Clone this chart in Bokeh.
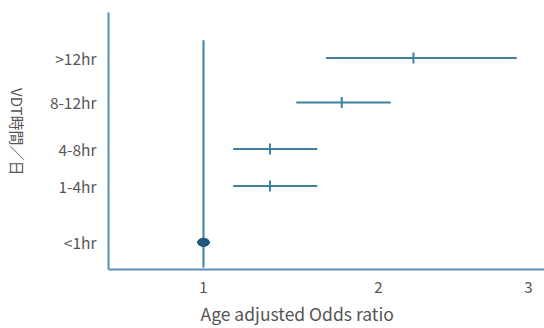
import math
from bokeh.plotting import figure
from bokeh.models import FixedTicker, Title, ColumnDataSource, Div
from bokeh.layouts import row
from bokeh.embed import file_html
from bokeh.resources import INLINE

# ---- data ----
categories = [">12hr", "8-12hr", "4-8hr", "1-4hr", "<1hr"]
rows = [21.4, 16.9, 12.2, 8.45, 2.75]        # vertical position of each category row
odds = [2.20, 1.79, 1.38, 1.38]               # estimates for the first four categories
ci_low = [1.70, 1.53, 1.17, 1.17]
ci_high = [2.79, 2.07, 1.65, 1.65]
ref_odds = [1.0]                              # reference category (<1hr)
ref_rows = [2.75]
ref_line_extent = [0.2, 23.2]                 # null line at OR = 1
x_ticks = [1, 2, 2.857]
x_tick_labels = {1: "1", 2: "2", 2.857: "3"}
y_title = "VDT時間／日"
x_title = "Age adjusted Odds ratio"

FONT = "Noto Sans CJK JP"
LINE = "#3f7fa0"
AXIS = "#5a8db5"
TXT = "#555555"

p = figure(width=518, height=328, output_backend="svg", toolbar_location=None,
           x_range=(0.457, 2.949), y_range=(0, 26),
           min_border_left=82, min_border_right=0, min_border_top=12,
           min_border_bottom=56)
p.outline_line_color = None
p.grid.visible = False
p.background_fill_color = "white"

src = ColumnDataSource(dict(y=rows[:4], lo=ci_low, hi=ci_high, est=odds))
p.segment(x0="lo", x1="hi", y0="y", y1="y", source=src, line_color=LINE, line_width=2)
p.scatter(x="est", y="y", source=src, marker="dash", angle=math.pi / 2, size=11,
          line_color=LINE, line_width=2)
p.segment(x0=ref_odds[0], x1=ref_odds[0], y0=ref_line_extent[0], y1=ref_line_extent[1],
          line_color=LINE, line_width=2)
p.ellipse(x=ref_odds, y=ref_rows, width=12, height=8, width_units="screen",
          height_units="screen", fill_color="#1f5a7c", line_color="#1a4f6e", line_width=1)

# x axis
xa = p.xaxis[0]
xa.ticker = FixedTicker(ticks=x_ticks)
xa.major_label_overrides = x_tick_labels
xa.major_tick_line_color = None
xa.minor_tick_line_color = None
xa.axis_line_color = AXIS
xa.axis_line_width = 2
xa.major_label_text_font = FONT
xa.major_label_text_font_size = "15px"
xa.major_label_text_color = TXT
xa.major_label_standoff = 6

# y axis
ya = p.yaxis[0]
ya.ticker = FixedTicker(ticks=rows)
ya.major_label_overrides = {r: c for r, c in zip(rows, categories)}
ya.major_tick_line_color = None
ya.minor_tick_line_color = None
ya.axis_line_color = AXIS
ya.axis_line_width = 2
ya.major_label_text_font = FONT
ya.major_label_text_font_size = "15.5px"
ya.major_label_text_color = TXT
ya.major_label_standoff = 6

# x axis title
p.add_layout(Title(text=x_title, align="left", offset=92,
                   text_font=FONT, text_font_size="17.5px", text_color=TXT,
                   text_font_style="normal", standoff=6), "below")

# y axis title (reads top to bottom, rotated clockwise)
ydiv = Div(
    text=('<div style="writing-mode:vertical-rl;text-orientation:sideways;'
          "font-family:'Noto Sans CJK JP';font-size:15px;line-height:18px;"
          'color:#555555;margin:88px 0 0 8px;white-space:nowrap;">'
          + y_title + "</div>"),
    width=26, height=328, margin=(0, 0, 0, 0))

layout = row(ydiv, p, spacing=0)
open("out.html", "w").write(file_html(layout, INLINE))
